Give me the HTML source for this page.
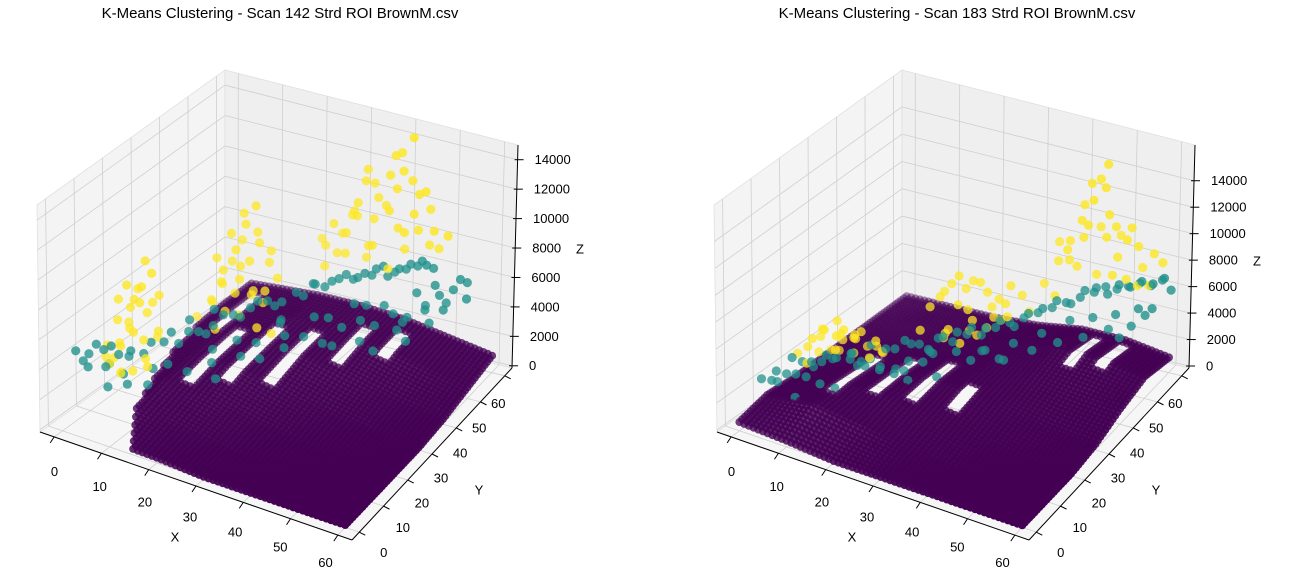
<!DOCTYPE html>
<html><head><meta charset="utf-8"><style>
body{margin:0;background:#fff;}
svg{display:block;font-family:"Liberation Sans",sans-serif;}
</style></head><body>
<svg id="fig" width="1294" height="586" viewBox="0 0 1294 586">
<text x="280" y="18" font-size="15" text-anchor="middle">K-Means Clustering - Scan 142 Strd ROI BrownM.csv</text>
<text x="957" y="18" font-size="15" text-anchor="middle">K-Means Clustering - Scan 183 Strd ROI BrownM.csv</text>
<g id="p1"></g>
<g id="p2"></g>
</svg>
<script>
// ---- data: left panel (Scan 142) ----
const gridX = [0,10,20,30,40,50,60];
const gridY = [0,10,20,30,40,50,60];
const purpleXmin1 = [15,10,8,6,5,5,5];
const purpleZ1 = [
 [0,300,200,0,0,0,0],
 [600,1000,600,200,0,0,0],
 [900,1500,1200,600,200,0,0],
 [1200,1800,1800,1200,600,200,0],
 [1500,2000,2000,1800,1200,600,200],
 [1800,2000,2200,2000,1800,1200,600],
 [1800,2000,2200,2200,2000,1500,1000]];
// gaps in the purple sheet: [xFrom, xTo, yFrom, yTo]
const purpleHoles1 = [[13,15,22,42],[19,21,26,46],[26,28,30,48],[34,36,42,54],[41,43,48,56],[8,10,40,56]];
const yellow1 = [[3,12,3000],[4,14,4200],[5,16,5000],[6,18,6500],[7,17,7800],[8,19,8500],[6,20,9000],[5,13,2500],[9,15,3500],[8,12,3000],[7,14,5200],[4,18,6000],[9,20,7000],[10,18,5000],[3,16,3600],[6,11,2800],[10,14,3200],[7,21,6200],[5,19,7200],[8,16,4500],
 [2,13,4000],[3,15,5500],[4,12,3500],[2,17,6500],[5,15,8000],[6,16,7000],[3,19,4800],[7,19,5800],[1,14,3000],[8,21,4000],
 [10,32,4000],[12,34,5000],[13,36,6000],[14,35,7000],[15,38,8000],[16,40,9500],[17,42,10500],[15,41,10000],[18,38,7500],[20,36,6000],[19,40,8500],[12,38,5500],[11,36,4500],[22,34,4000],[21,38,5000],[23,40,6500],[14,32,3500],[16,36,5500],[18,34,4500],[20,42,7000],[24,36,3500],[13,40,6800],
 [14,38,9000],[16,38,7000],[17,36,6500],[19,37,5500],[15,34,4500],[12,36,7500],[18,41,9000],[21,41,8000],[22,37,6000],[14,42,8000],
 [24,55,7000],[26,56,8000],[28,54,6500],[30,57,9000],[32,55,10000],[34,58,11000],[33,53,9500],[36,56,10500],[38,57,12000],[40,58,13500],[42,59,14500],[41,57,12500],[39,55,10000],[44,58,11000],[46,59,10000],[45,56,9000],[47,57,8000],[43,54,9000],[37,52,8000],[35,54,7500],[31,52,7000],[29,58,8500],[48,59,7500],[40,53,6500],[42,56,7500],[36,59,9500],[27,51,6000],[33,57,12000],
 [30,54,8000],[32,58,11000],[35,56,9000],[38,59,13000],[41,55,9000],[44,56,10000],[46,57,11500],[48,57,9000],[50,59,8500],[34,55,6500],[28,56,7500],[26,53,7000],[39,58,11000],[43,57,12000]];
const teal1 = [[0,5,4500],[1,8,4000],[2,6,3500],[3,10,4200],[5,12,3800],[6,14,3500],[8,16,3600],[10,20,4000],[12,22,3800],[14,26,4200],[16,28,4500],[18,32,4800],[20,35,5000],[22,38,5200],[24,40,5000],[26,42,5500],[28,45,5800],[30,46,5600],[32,48,6000],[34,50,5800],[36,51,6200],[38,52,6500],[40,53,6000],[42,54,6500],[44,55,6800],[46,56,7000],[48,57,6500],[12,26,4800],[15,30,5200],[20,30,3600],[25,38,4200],
 [15,20,2500],[18,24,2800],[22,28,3000],[25,30,2800],[28,34,3200],[30,38,3500],[33,40,3000],[35,44,3600],[38,46,4000],[40,48,3500],[43,50,4200],[45,52,3800],[48,54,4500],[50,56,5000],[52,58,5200],[50,52,3800],[47,48,3000],[52,54,4500],[10,14,2000],[8,10,2400],[20,22,2200],[5,8,2200],[26,36,4400],[36,47,4800],[30,42,4200],[42,44,2600],[54,60,5500],
 [1,6,3800],[2,9,4600],[4,9,3300],[4,11,4400],[7,13,4100],[9,17,4300],[11,21,4600],[13,24,4400],[15,27,4000],[17,30,5000],[19,33,4600],[21,36,5400],[23,39,4800],[27,43,5200],[29,44,6000],[31,47,5900],[33,49,6200],[35,50,6000],[37,52,6000],[39,53,6600],[41,54,6200],[43,55,6400],[45,56,6600],[47,56,6800],[3,12,3000],[6,12,2600],[10,16,2800],[12,18,3000],[17,26,3300],[23,32,3400],[27,36,3600],[32,44,4000],[37,50,4300],[41,50,4600],[44,52,3400],[46,54,5200],[49,56,5600],[51,57,4400],[53,59,5800],[55,58,4800],[49,52,4600],[45,48,3600],[39,44,3000],[34,42,2600]];
// ---- data: right panel (Scan 183) ----
const purpleXmin2 = [0,0,0,0,0,0,0];
const purpleZ2 = [
 [500,300,0,0,0,0,0],
 [1000,1500,1000,500,0,0,0],
 [800,1500,1500,1000,500,0,0],
 [800,1200,1500,1500,1000,500,300],
 [800,1000,1200,1500,1500,1200,1000],
 [800,1000,1000,1500,2000,2000,1500],
 [800,800,800,1000,1500,1500,1000]];
const purpleHoles2 = [[9,11,16,34],[16,18,20,36],[23,25,22,38],[31,33,24,32],[44,46,46,58],[50,52,48,58]];
const yellow2 = [[3,16,3500],[5,18,4500],[6,20,5000],[8,22,5500],[10,21,5200],[12,24,4800],[7,25,4000],[9,27,3500],[11,28,3000],[13,30,2500],[4,22,2800],[6,26,2500],[14,26,4000],[15,22,3500],[10,18,4200],[8,28,2200],[12,32,2000],
 [4,18,3800],[5,21,4200],[7,19,5200],[9,20,4800],[11,23,4400],[6,23,3000],[8,24,3800],[10,25,4200],[13,28,3200],[5,16,3000],
 [20,36,5500],[22,38,6500],[24,40,7500],[26,42,7000],[25,38,5800],[28,44,6000],[30,45,5500],[32,46,6500],[34,47,5800],[27,40,4500],[23,36,3500],[29,42,3800],[31,44,4200],[21,40,3000],[26,37,3200],[33,43,4800],[19,34,4000],[24,44,2800],[35,48,4500],
 [21,38,6000],[23,39,7000],[25,41,6500],[27,43,6800],[29,44,5000],[24,36,4200],[26,40,5200],[28,40,3500],[30,43,4500],[32,44,5500],
 [36,52,6000],[38,54,7500],[40,55,9000],[42,56,10500],[44,57,12000],[45,58,13500],[46,59,14500],[43,55,9500],[41,53,8000],[47,58,11000],[48,59,10000],[50,60,9000],[52,61,8500],[55,62,8000],[57,62,7500],[49,56,7000],[51,58,6500],[39,51,5500],[37,56,8500],[44,60,9500],[46,55,7000],[53,59,6000],
 [40,54,8500],[42,57,11500],[44,55,10500],[45,60,12500],[47,57,9500],[49,58,8000],[51,60,10000],[53,61,7000],[55,60,6000],[43,58,13000],[41,56,7000],[48,61,9000]];
const teal2 = [[0,8,2500],[2,10,3000],[3,14,3500],[5,12,2800],[6,16,3200],[8,18,3600],[4,20,2000],[7,22,2600],[10,24,3000],[12,20,3400],[14,22,2800],[9,14,2200],[11,16,1800],[13,26,3600],[15,28,3200],[16,24,2400],[18,30,3800],[20,32,3400],[17,34,2800],[19,28,2000],[22,30,2600],[21,26,1800],[24,34,4000],[26,36,4200],[23,32,3000],[25,30,1800],[28,38,4400],[27,34,3200],[30,40,4200],[29,36,2400],[32,42,4600],[31,38,3000],[34,44,4000],[33,40,2200],[36,46,4800],[38,48,5000],[35,42,3200],[40,50,5400],[42,52,5000],[39,46,3600],[44,54,5800],[46,55,6000],[43,50,4200],[48,56,5500],[50,57,6200],[47,52,4400],[52,58,6000],[54,59,6400],[56,60,6200],[51,54,4600],[55,56,5000],[58,61,6600],[53,52,3400],[57,58,4800],[1,12,1800],[6,10,1500],[16,30,1500],[28,42,2000],
 [1,10,2200],[3,12,2600],[4,16,3000],[6,14,2400],[7,18,3000],[9,20,3200],[11,22,3400],[12,24,2600],[14,24,3000],[15,26,2200],[17,28,3400],[18,26,2000],[20,28,2800],[22,32,3200],[23,34,3800],[25,36,3400],[27,38,3800],[29,40,3600],[31,42,4000],[33,44,4200],[35,46,4400],[37,48,4600],[39,50,4800],[41,52,5000],[43,54,5200],[45,56,5400],[47,57,5800],[49,58,5600],[51,59,5800],[53,60,6000],[55,61,5800],[57,62,6200],[59,62,5600],[56,57,4400],[54,55,3800],[50,53,3600],[46,50,3200],[42,47,3000],[38,44,2600],[34,40,2200],[10,26,1800],[20,36,2200]];

const COL = {p:'#440154', t:'#21918c', y:'#fde725'};
const zTicks = [0,2000,4000,6000,8000,10000,12000,14000];
const xyTicks = [0,10,20,30,40,50,60];

function makePanel(g, off, zmin, zmax, purpleXmin, purpleZ, holes, teal, yellow){
  const NS='http://www.w3.org/2000/svg';
  const A=[40+off,432],B=[352+off,540],C=[512+off,368],D=[225+off,300];
  const hA=227,hB=235,hC=223,hD=230;
  const dA=-3,dB=2,dC=6,dD=0;
  const xmin=-3,xmax=63,ymin=-3,ymax=63;
  function bil(a,b,c,d,u,v){return (1-u)*(1-v)*a+u*(1-v)*b+u*v*c+(1-u)*v*d;}
  function P(x,y,z){
    const u=(x-xmin)/(xmax-xmin), v=(y-ymin)/(ymax-ymin), w=(z-zmin)/(zmax-zmin);
    const fx=bil(A[0],B[0],C[0],D[0],u,v), fy=bil(A[1],B[1],C[1],D[1],u,v);
    const h=bil(hA,hB,hC,hD,u,v), dx=bil(dA,dB,dC,dD,u,v);
    return [fx+dx*w, fy-h*w];
  }
  function el(tag,attrs,parent){const e=document.createElementNS(NS,tag);for(const k in attrs)e.setAttribute(k,attrs[k]);(parent||g).appendChild(e);return e;}
  function poly(pts,fill,name){
    const e=el('polygon',{points:pts.map(p=>p.join(',')).join(' '),fill:fill,stroke:'#e0e0e0','stroke-width':0.8});
    
    
  }
  function line(p,q,stroke,w,name){
    const e=el('line',{x1:p[0],y1:p[1],x2:q[0],y2:q[1],stroke:stroke,'stroke-width':w});
    
    
  }
  poly([P(xmin,ymin,zmin),P(xmin,ymax,zmin),P(xmin,ymax,zmax),P(xmin,ymin,zmax)],'#f4f4f4','x-pane');
  poly([P(xmin,ymax,zmin),P(xmax,ymax,zmin),P(xmax,ymax,zmax),P(xmin,ymax,zmax)],'#efefef','y-pane');
  poly([P(xmin,ymin,zmin),P(xmax,ymin,zmin),P(xmax,ymax,zmin),P(xmin,ymax,zmin)],'#f6f6f6','floor-pane');
  const gc='#cfcfcf';
  xyTicks.forEach(t=>{
    line(P(t,ymin,zmin),P(t,ymax,zmin),gc,0.8,'floor-grid-x');
    line(P(t,ymax,zmin),P(t,ymax,zmax),gc,0.8,'wall-grid-x');
    line(P(xmin,t,zmin),P(xmax,t,zmin),gc,0.8,'floor-grid-y');
    line(P(xmin,t,zmin),P(xmin,t,zmax),gc,0.8,'wall-grid-y');
  });
  zTicks.forEach(t=>{
    line(P(xmin,ymin,t),P(xmin,ymax,t),gc,0.8,'wall-grid-z');
    line(P(xmin,ymax,t),P(xmax,ymax,t),gc,0.8,'wall-grid-z');
  });
  line(P(xmin,ymin,zmin),P(xmax,ymin,zmin),'#000',1,'x-axis-line');
  line(P(xmax,ymin,zmin),P(xmax,ymax,zmin),'#000',1,'y-axis-line');
  line(P(xmax,ymax,zmin),P(xmax,ymax,zmax),'#000',1,'z-axis-line');
  function txt(x,y,s,anchor,name){
    const e=el('text',{x:x,y:y,'font-size':13,'text-anchor':anchor,'dominant-baseline':'middle'});
    e.textContent=s;
    
    
  }
  xyTicks.forEach(t=>{
    const u=(t-xmin)/(xmax-xmin);
    const p=P(t,ymin,zmin); line(p,[p[0]-4,p[1]+6],'#000',1,'x-tick');
    txt(p[0]+1-14*u,p[1]+36-8*u,String(t),'middle','x-tick-label');
    const q=P(xmax,t,zmin); line(q,[q[0]+6,q[1]+3],'#000',1,'y-tick');
    txt(q[0]+26-34*u,q[1]+21+8*u,String(t),'middle','y-tick-label');
  });
  zTicks.forEach(t=>{
    const p=P(xmax,ymax,t); line([p[0]-3,p[1]],[p[0]+6,p[1]],'#000',1,'z-tick');
    txt(p[0]+17,p[1]+1,String(t),'start','z-tick-label');
  });
  txt(A[0]+135,A[1]+106,'X','middle','x-axis-title');
  txt(C[0]-33,C[1]+123,'Y','middle','y-axis-title');
  txt(C[0]+68,P(xmax,ymax,8000)[1]+2,'Z','middle','z-axis-title');
  const pts=[];
  for(let yi=0;yi<=60;yi++){
    const r=Math.min(5,Math.floor(yi/10)), fv=(yi-gridY[r])/10;
    const xm=purpleXmin[r]*(1-fv)+purpleXmin[Math.min(6,r+1)]*fv;
    for(let xi=0;xi<=60;xi++){
      if(xi<xm) continue;
      if(holes.some(h=>xi>=h[0]&&xi<=h[1]&&yi>=h[2]&&yi<=h[3])) continue;
      const c=Math.min(5,Math.floor(xi/10)), fu=(xi-gridX[c])/10;
      const z=bil(purpleZ[r][c],purpleZ[r][c+1],purpleZ[r+1][c+1],purpleZ[r+1][c],fu,fv);
      pts.push([xi,yi,z,'p']);
    }
  }
  teal.forEach(p=>pts.push([p[0],p[1],p[2],'t']));
  yellow.forEach(p=>pts.push([p[0],p[1],p[2],'y']));
  pts.forEach(p=>{p.d=(p[0]-p[1])/60 + (p[2]/(zmax))*0.6;});
  pts.sort((a,b)=>a.d-b.d);
  const dmin=-1, dmax=1.6;
  const pg=el('g',{});
  
  
  pts.forEach(p=>{
    const s=P(p[0],p[1],p[2]);
    const f=(p.d-dmin)/(dmax-dmin);
    const a=Math.max(0.4,Math.min(1,0.45+0.8*f));
    const rr = p[3]==='p' ? 4.0 : 4.6;
    const e=el('circle',{cx:s[0].toFixed(1),cy:s[1].toFixed(1),r:rr,fill:COL[p[3]],'fill-opacity':a.toFixed(2)},pg);
    
    
  });
}
makePanel(document.getElementById('p1'),0,-150,15000,purpleXmin1,purpleZ1,purpleHoles1,teal1,yellow1);
makePanel(document.getElementById('p2'),677,-150,16700,purpleXmin2,purpleZ2,purpleHoles2,teal2,yellow2);
</script>
</body></html>
